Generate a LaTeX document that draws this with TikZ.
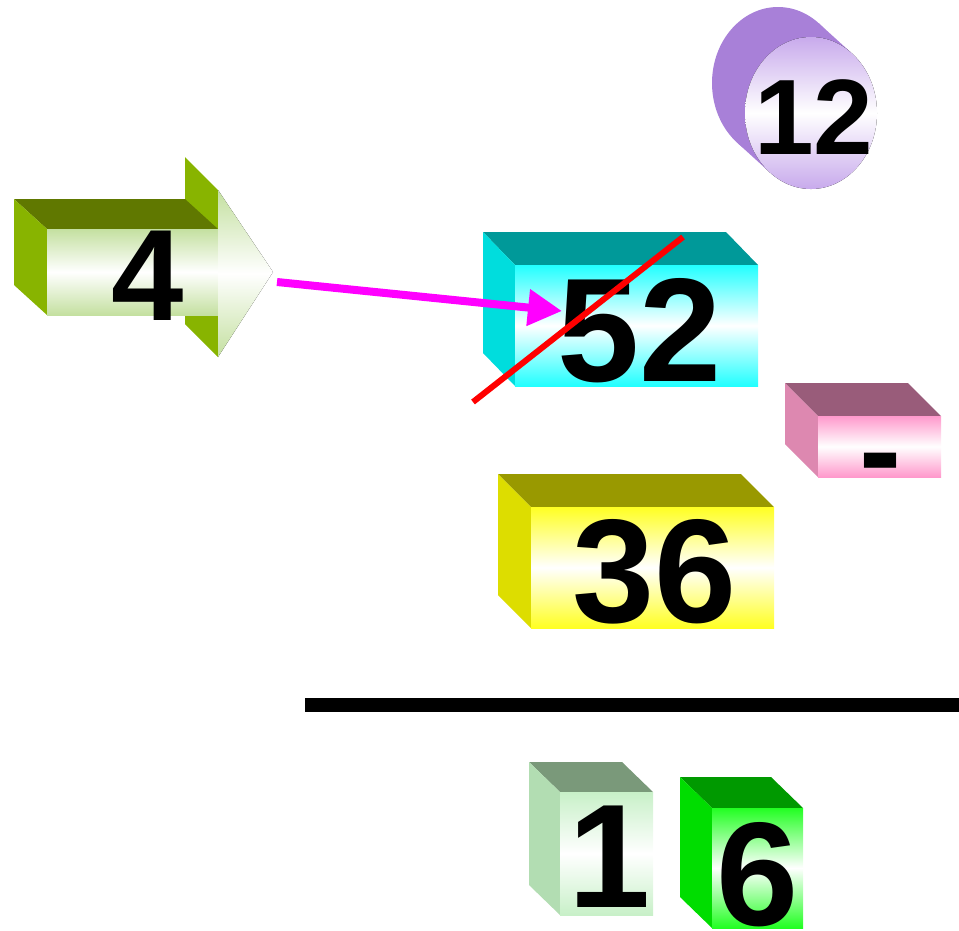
\documentclass[tikz,border=0pt]{standalone}
\usepackage{fontspec}
\setmainfont{Liberation Sans}
\usetikzlibrary{arrows.meta}
\definecolor{grnside}{RGB}{136,180,0}
\definecolor{grntop}{RGB}{96,120,0}
\definecolor{grnfront}{RGB}{196,224,160}
\definecolor{purside}{RGB}{168,128,216}
\definecolor{purfront}{RGB}{200,170,236}
\definecolor{cyntop}{RGB}{0,153,153}
\definecolor{cynside}{RGB}{0,221,221}
\definecolor{cynfront}{RGB}{34,255,255}
\definecolor{pnktop}{RGB}{153,92,122}
\definecolor{pnkside}{RGB}{221,136,176}
\definecolor{pnkfront}{RGB}{255,153,204}
\definecolor{ylwtop}{RGB}{153,153,0}
\definecolor{ylwside}{RGB}{221,221,0}
\definecolor{ylwfront}{RGB}{255,255,34}
\definecolor{mnttop}{RGB}{122,153,122}
\definecolor{mntside}{RGB}{178,221,178}
\definecolor{mntfront}{RGB}{200,240,200}
\definecolor{lmtop}{RGB}{0,153,0}
\definecolor{lmside}{RGB}{0,221,0}
\definecolor{lmfront}{RGB}{34,255,34}
\definecolor{pointer}{RGB}{255,0,255}
\definecolor{strike}{RGB}{255,0,0}
\begin{document}
\begin{tikzpicture}[x=0.2mm,y=-0.2mm,
    face/.style={top color=#1,bottom color=#1,middle color=white},
    digit/.style={inner sep=0pt,font=\bfseries\fontsize{84}{84}\selectfont}]
  \useasboundingbox (0,0) rectangle (959,930);
  % arrow with the 4
  \fill[grnside] (185,157) -- (218,190) -- (218,357) -- (185,324) -- cycle;
  \fill[grntop] (14,199) -- (185,199) -- (218,229) -- (47,229) -- cycle;
  \fill[grnside] (14,199) -- (47,229) -- (47,315) -- (14,285) -- cycle;
  \fill[face=grnfront] (47,229) rectangle (218,315);
  \fill[face=grnfront] (218,190) -- (273,272) -- (218,357) -- cycle;
  \node[digit,font=\bfseries\fontsize{74}{74}\selectfont] (four) at (148,276) {4};
  % disc with the 12
  \fill[purside] (778,83) ellipse [x radius=66,y radius=76];
  \fill[purside] (851.9,53.4) -- (818.9,23.4) -- (737.1,142.6) -- (770.1,172.6) -- cycle;
  \fill[face=purfront] (811,113) ellipse [x radius=66,y radius=76];
  \node[digit,font=\bfseries\fontsize{61}{61}\selectfont] (twelve) at (814,117) {12};
  % 52
  \fill[cyntop] (483,232) -- (726,232) -- (758,265) -- (515,265) -- cycle;
  \fill[cynside] (483,232) -- (515,265) -- (515,386) -- (483,353) -- cycle;
  \fill[face=cynfront] (515,265) rectangle (758,386);
  \node[digit] (fiftytwo) at (640,331) {52};
  % minus
  \fill[pnktop] (785,383) -- (908,383) -- (941,416) -- (818,416) -- cycle;
  \fill[pnkside] (785,383) -- (818,416) -- (818,477) -- (785,444) -- cycle;
  \fill[face=pnkfront] (818,416) rectangle (941,477);
  \node[digit,font=\bfseries\fontsize{72}{72}\selectfont,anchor=base] (minus) at (881,493) {-};
  % 36
  \fill[ylwtop] (498,474) -- (741,474) -- (774,507) -- (531,507) -- cycle;
  \fill[ylwside] (498,474) -- (531,507) -- (531,628) -- (498,595) -- cycle;
  \fill[face=ylwfront] (531,507) rectangle (774,628);
  \node[digit] (thirtysix) at (655,572) {36};
  % bar
  \draw[line width=2.8mm] (305,705) -- (959,705);
  % 1 and 6
  \fill[mnttop] (529,762) -- (622,762) -- (653,792) -- (560,792) -- cycle;
  \fill[mntside] (529,762) -- (560,792) -- (560,915) -- (529,885) -- cycle;
  \fill[face=mntfront] (560,792) rectangle (653,915);
  \node[digit] (one) at (610,857) {1};
  \fill[lmtop] (680,777) -- (771,777) -- (803,808) -- (712,808) -- cycle;
  \fill[lmside] (680,777) -- (712,808) -- (712,928) -- (680,897) -- cycle;
  \fill[face=lmfront] (712,808) rectangle (803,928);
  \node[digit] (six) at (758,875) {6};
  % arrow and strike
  \coordinate (tip4) at (277,282);
  \coordinate (in52) at (562,311);
  \coordinate (strikea) at (473,402);
  \coordinate (strikeb) at (683,237);
  \draw[pointer,line width=1.6mm,-{Triangle[length=6.8mm,width=7mm]}] (tip4) -- (in52);
  \draw[strike,line width=1.2mm] (strikea) -- (strikeb);
\end{tikzpicture}
\end{document}
